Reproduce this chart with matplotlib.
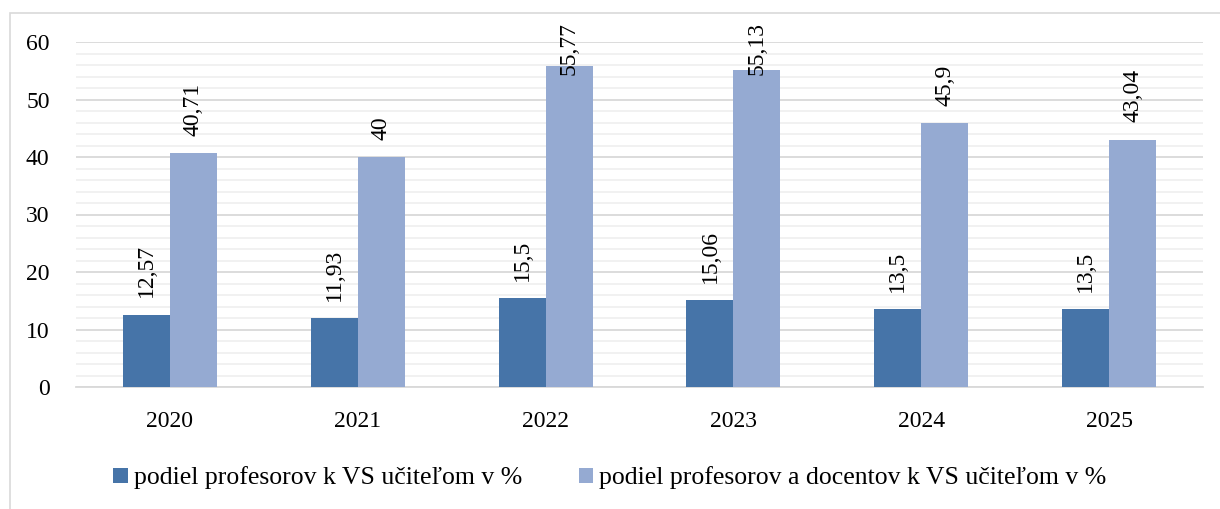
import matplotlib
matplotlib.use("Agg")
import matplotlib.pyplot as plt
import numpy as np
from matplotlib.patches import Rectangle

years = ["2020", "2021", "2022", "2023", "2024", "2025"]
prof = [12.57, 11.93, 15.5, 15.06, 13.5, 13.5]
prof_doc = [40.71, 40, 55.77, 55.13, 45.9, 43.04]
labels_prof = ["12,57", "11,93", "15,5", "15,06", "13,5", "13,5"]
labels_doc = ["40,71", "40", "55,77", "55,13", "45,9", "43,04"]
series_names = ["podiel profesorov k VS učiteľom v %",
                "podiel profesorov a docentov k VS učiteľom v %"]

plt.rcParams['font.family'] = ['Liberation Serif', 'DejaVu Serif']

W, H = 1220, 509
fig = plt.figure(figsize=(W/100, H/100), dpi=100)
ax = fig.add_axes([76/W, 1-387/H, (1203-76)/W, (387-42)/H])

x = np.arange(len(years))
w = 0.25
c1 = "#4674a8"
c2 = "#95aad2"
ax.bar(x - w/2, prof, w, color=c1, zorder=3, label=series_names[0])
ax.bar(x + w/2, prof_doc, w, color=c2, zorder=3, label=series_names[1])

ax.set_xlim(-0.5, len(years) - 0.5)
ax.set_ylim(0, 60)

fs = 17
texts = []
for xs, vals, labs in ((x - w/2, prof, labels_prof), (x + w/2, prof_doc, labels_doc)):
    for xi, v, t in zip(xs, vals, labs):
        txt = ax.text(xi, v + 3.0, t, rotation=90, ha="center", va="bottom",
                      fontsize=fs, clip_on=False, zorder=5)
        texts.append(txt)

# keep labels inside the chart area (top limit at pixel row ~22 from top)
fig.canvas.draw()
renderer = fig.canvas.get_renderer()
top_limit_px = H - 22  # display coords (origin bottom)
for txt in texts:
    bb = txt.get_window_extent(renderer)
    if bb.y1 > top_limit_px:
        xd, yd = txt.get_position()
        ylim_data = ax.transData.inverted().transform((0, top_limit_px))[1]
        txt.set_va("top")
        txt.set_position((xd, ylim_data))

ax.set_yticks(range(0, 61, 10))
ax.set_yticks(range(0, 61, 2), minor=True)
ax.set_xticks(x)
ax.set_xticklabels(years)
ax.tick_params(axis="both", which="both", length=0, labelsize=fs)
ax.tick_params(axis="x", pad=17)
ax.tick_params(axis="y", pad=19)
ax.grid(axis="y", which="major", color="#d9d9d9", linewidth=1.3, zorder=0)
ax.grid(axis="y", which="minor", color="#f0f0f0", linewidth=1.3, zorder=0)
for s in ["top", "right", "left"]:
    ax.spines[s].set_visible(False)
ax.spines["bottom"].set_color("#d9d9d9")
ax.spines["bottom"].set_linewidth(1.3)

fig.legend(loc="center", bbox_to_anchor=(0.5, 1-478/H), ncol=2, frameon=False,
           fontsize=18.5, handlelength=0.55, handleheight=0.55, handletextpad=0.25,
           columnspacing=2.2)

fig.patches.append(Rectangle((10/W, -0.01), 1.2, 1-13/H + 0.01, transform=fig.transFigure,
                             fill=False, edgecolor="#d9d9d9", linewidth=1.2))

fig.savefig("out.png", dpi=100)
